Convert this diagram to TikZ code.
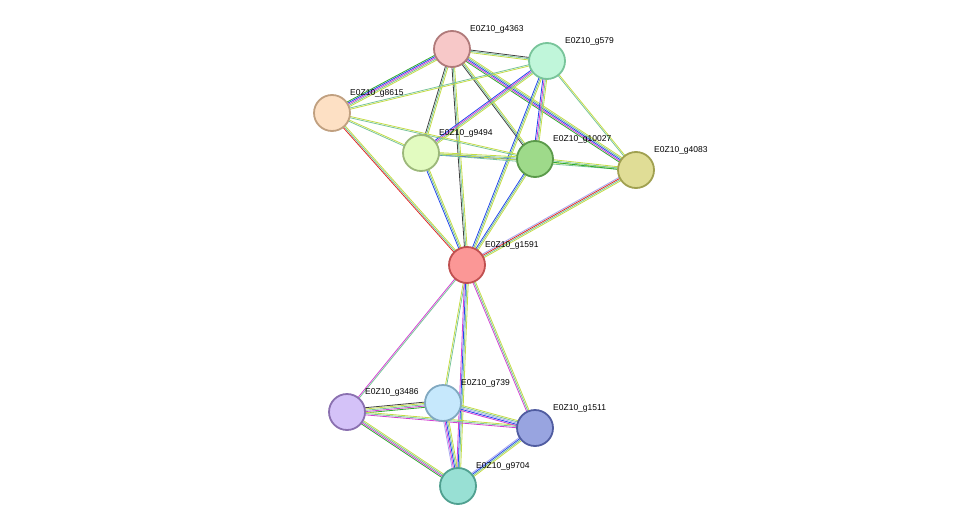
\documentclass[tikz,border=0pt]{standalone}
\usepackage{fontspec}
\setmainfont{Liberation Sans}
\usetikzlibrary{calc,backgrounds}
\definecolor{tm}{HTML}{C4DC46}
\definecolor{db}{HTML}{33BBDD}
\definecolor{ex}{HTML}{D340D3}
\definecolor{co}{HTML}{404040}
\definecolor{cooc}{HTML}{2244EE}
\definecolor{fu}{HTML}{E02828}
\definecolor{nb}{HTML}{2EAA2E}
\definecolor{ho}{HTML}{A8A8F0}
\tikzset{
 prot/.style={circle,minimum size=36pt,inner sep=0pt,line width=1.8pt},
 lab/.style={anchor=south west,font=\fontsize{8.5pt}{10pt}\selectfont,inner sep=0pt},
 ln/.style={line width=0.8pt}
}
\newcommand\edg[3]{%
 \foreach \c [count=\n] in {#3}{\global\let\nnn\n}%
 \foreach \c [count=\i] in {#3}{%
  \pgfmathsetmacro\off{(\i-(\nnn+1)/2)*1.3}%
  \draw[ln,\c] ($(#1)!\off pt!90:(#2)$) -- ($(#2)!\off pt!-90:(#1)$);}}
\newcommand\prot[6]{%
 \definecolor{f#1}{HTML}{#4}\definecolor{d#1}{HTML}{#5}%
 \node[prot,fill=f#1,draw=d#1] (#1) at (#2pt,-#3pt) {};
 \node[lab] (l#1) at (#2pt+18pt,-#3pt+16pt) {#6};}
\begin{document}
\begin{tikzpicture}[x=1pt,y=1pt]
\useasboundingbox (0,0) rectangle (976,-532);
\prot{a}{452}{49}{F7C8C8}{B07A7A}{E0Z10\_g4363}
\prot{b}{547}{61}{C0F6DA}{78C49A}{E0Z10\_g579}
\prot{c}{332}{113}{FDE0C4}{C0A080}{E0Z10\_g8615}
\prot{d}{421}{153}{E2FBC0}{9CB87A}{E0Z10\_g9494}
\prot{e}{535}{159}{9EDA8A}{5A9A4A}{E0Z10\_g10027}
\prot{f}{636}{170}{E0DD96}{A0A050}{E0Z10\_g4083}
\prot{g}{467}{265}{FB9796}{C05050}{E0Z10\_g1591}
\prot{h}{347}{412}{D4C2F8}{8A70B0}{E0Z10\_g3486}
\prot{i}{443}{403}{C6E8FC}{80A8C0}{E0Z10\_g739}
\prot{j}{535}{428}{98A4E0}{505CA0}{E0Z10\_g1511}
\prot{k}{458}{486}{98E0D4}{50A090}{E0Z10\_g9704}
\begin{scope}[on background layer]
\edg{a}{b}{tm,db,co}
\edg{a}{c}{nb,cooc,ex,db,tm}
\edg{a}{d}{co,db,tm}
\edg{a}{e}{co,db,tm}
\edg{a}{f}{nb,ex,cooc,db,tm}
\edg{a}{g}{co,db,tm}
\edg{b}{c}{db,tm}
\edg{b}{d}{cooc,ex,db,tm}
\edg{b}{e}{cooc,ex,db,tm}
\edg{b}{f}{db,tm}
\edg{b}{g}{cooc,db,tm}
\edg{c}{d}{db,tm}
\edg{c}{e}{db,tm}
\edg{c}{g}{fu,db,tm}
\edg{d}{e}{cooc,db,tm}
\edg{d}{f}{db,tm}
\edg{d}{g}{cooc,db,tm}
\edg{e}{f}{nb,db,tm}
\edg{e}{g}{cooc,db,tm}
\edg{f}{g}{ho,fu,db,tm}
\edg{g}{h}{ex,db}
\edg{g}{i}{tm,db}
\edg{g}{j}{ex,db,tm}
\edg{g}{k}{ex,cooc,db,tm}
\edg{h}{i}{nb,ex,db,tm,co}
\edg{h}{j}{ex,db,tm}
\edg{h}{k}{nb,ex,db,tm}
\edg{i}{j}{ex,cooc,ho,db,tm}
\edg{i}{k}{ho,ex,cooc,db,tm}
\edg{j}{k}{ho,cooc,db,tm}
\end{scope}
\end{tikzpicture}
\end{document}
